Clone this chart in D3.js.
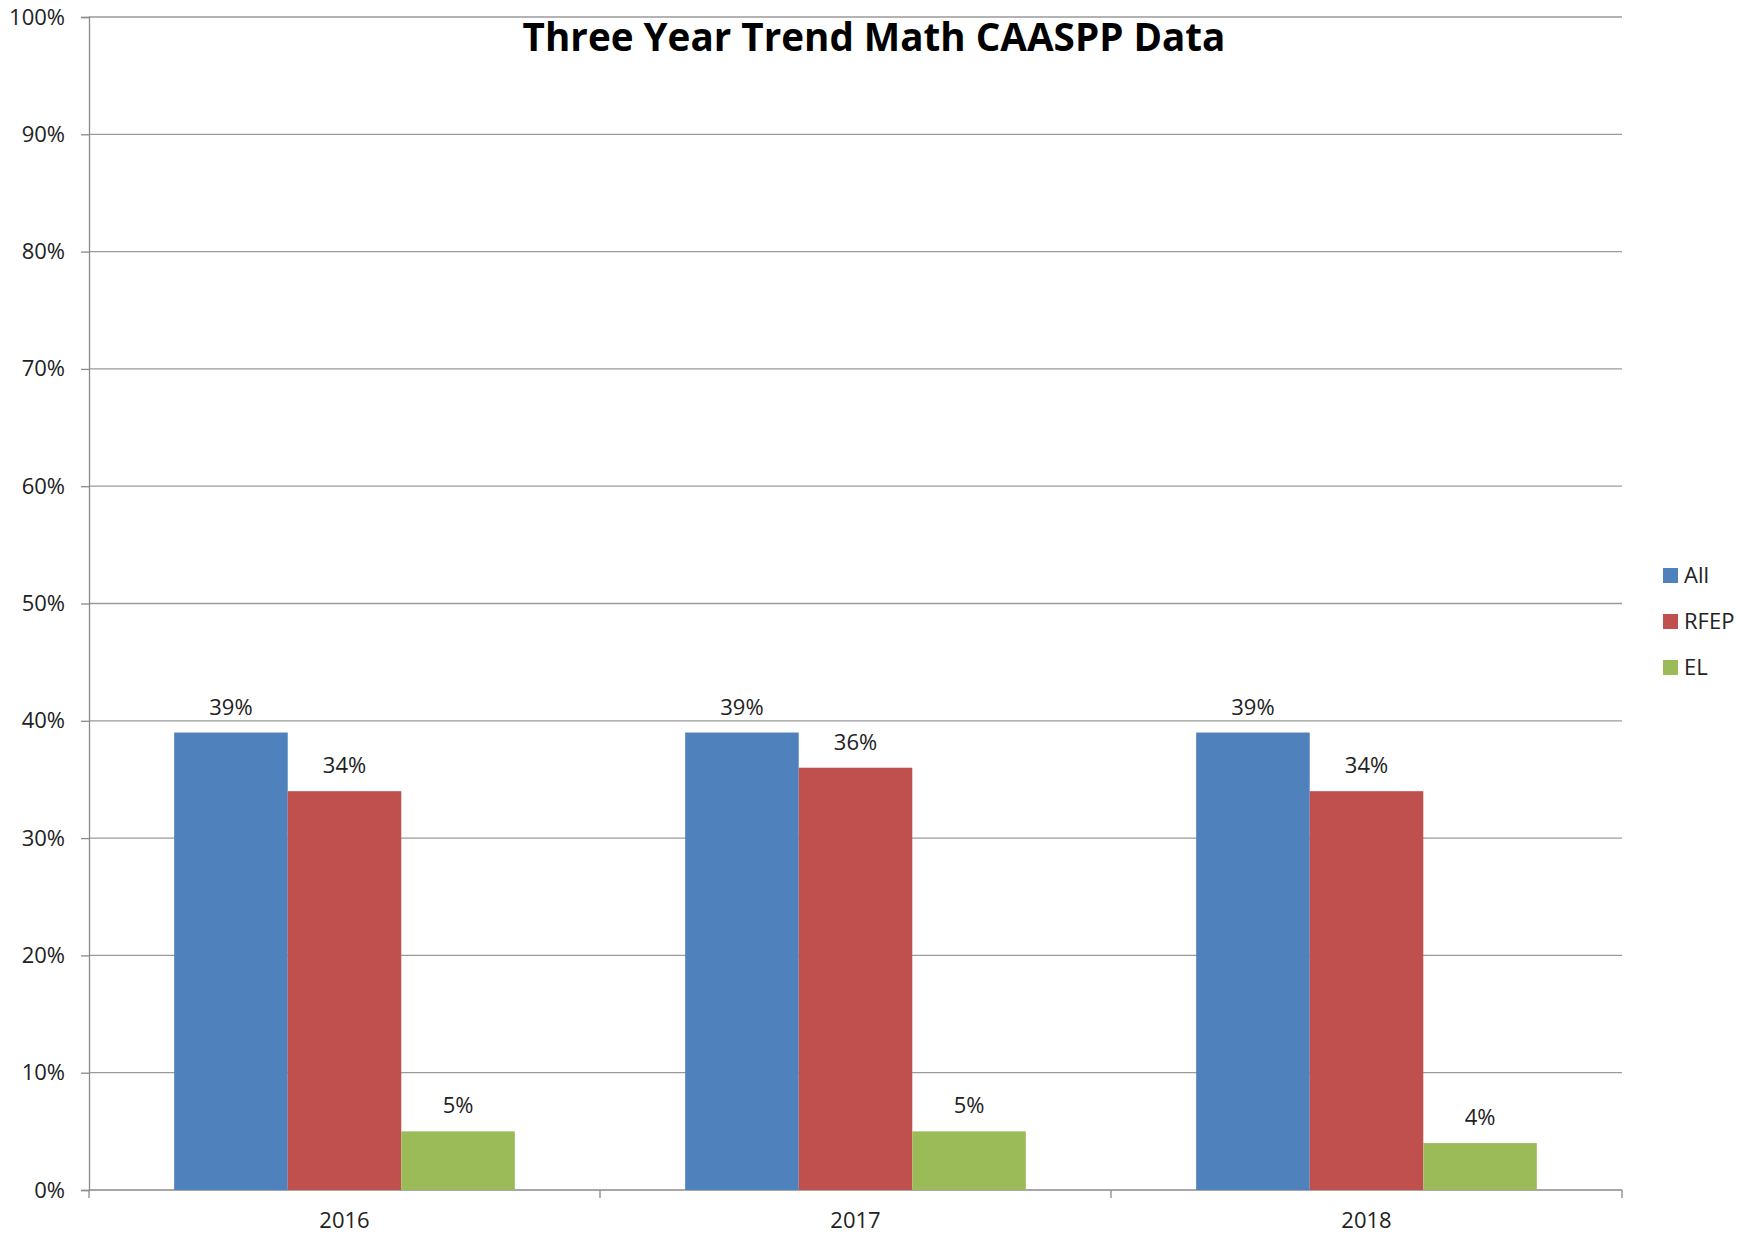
<!DOCTYPE html>
<html>
<head>
<meta charset="utf-8">
<script src="https://cdn.jsdelivr.net/npm/d3@7"></script>
<style>
  body { margin: 0; background: #fff; }
  text { font-family: "Open Sans", "Liberation Sans", sans-serif; fill: #222; }
</style>
</head>
<body>
<script>
const years = ["2016", "2017", "2018"];
const seriesNames = ["All", "RFEP", "EL"];
const allValues = [0.39, 0.39, 0.39];
const rfepValues = [0.34, 0.36, 0.34];
const elValues = [0.05, 0.05, 0.04];
const colours = ["#4F81BD", "#C0504D", "#9BBB59"];
const yTicks = [0, 0.1, 0.2, 0.3, 0.4, 0.5, 0.6, 0.7, 0.8, 0.9, 1];

const width = 1756, height = 1236;
const margin = {top: 17, right: 134, bottom: 46, left: 89};
const plotW = width - margin.left - margin.right;
const plotH = height - margin.top - margin.bottom;

const svg = d3.select("body").append("svg")
    .attr("width", width).attr("height", height);

const g = svg.append("g").attr("transform", `translate(${margin.left},${margin.top})`);

const y = d3.scaleLinear().domain([0, 1]).range([plotH, 0]);
const x0 = d3.scaleBand().domain(years).range([0, plotW]).padding(0);
const bw = x0.bandwidth();
// excel-style gap width 150%
const gap = bw * 0.75 / 4.5;
const x1 = d3.scaleBand().domain(seriesNames).range([gap, bw - gap]).padding(0);

// gridlines
g.append("g").selectAll("line").data(yTicks.filter(d => d > 0)).join("line")
    .attr("x1", 0).attr("x2", plotW)
    .attr("y1", d => y(d)).attr("y2", d => y(d))
    .attr("stroke", "#9a9a9a").attr("stroke-width", 1.3);

// y axis
const yAxis = g.append("g")
    .call(d3.axisLeft(y).tickValues(yTicks).tickFormat(d3.format(".0%")).tickSize(8).tickPadding(16));
yAxis.select(".domain").attr("stroke", "#8a8a8a").attr("stroke-width", 1.3);
yAxis.selectAll(".tick line").attr("stroke", "#8a8a8a").attr("stroke-width", 1.3);
yAxis.selectAll("text").style("font-size", "22px").attr("fill", "#222");

// x axis baseline and ticks between categories
const xg = g.append("g").attr("transform", `translate(0,${plotH})`);
xg.append("line").attr("x1", 0).attr("x2", plotW)
    .attr("stroke", "#8a8a8a").attr("stroke-width", 1.3);
xg.selectAll("line.tk").data(d3.range(years.length + 1)).join("line")
    .attr("class", "tk")
    .attr("x1", i => i * bw).attr("x2", i => i * bw)
    .attr("y1", 0).attr("y2", 8)
    .attr("stroke", "#8a8a8a").attr("stroke-width", 1.3);
xg.selectAll("text").data(years).join("text")
    .attr("x", d => x0(d) + bw / 2)
    .attr("y", 38)
    .attr("text-anchor", "middle")
    .style("font-size", "22px")
    .text(d => d);

// bars
const table = years.map((yr, i) => ({
  year: yr,
  vals: [allValues[i], rfepValues[i], elValues[i]].map((v, k) => ({name: seriesNames[k], value: v, k}))
}));

const groups = g.selectAll("g.year").data(table).join("g")
    .attr("class", "year")
    .attr("transform", d => `translate(${x0(d.year)},0)`);

groups.selectAll("rect").data(d => d.vals).join("rect")
    .attr("x", d => x1(d.name))
    .attr("y", d => y(d.value))
    .attr("width", x1.bandwidth())
    .attr("height", d => plotH - y(d.value))
    .attr("fill", d => colours[d.k]);

groups.selectAll("text").data(d => d.vals).join("text")
    .attr("x", d => x1(d.name) + x1.bandwidth() / 2)
    .attr("y", d => y(d.value) - 18)
    .attr("text-anchor", "middle")
    .style("font-size", "22px")
    .text(d => d3.format(".0%")(d.value));

// title
const title = svg.append("text")
    .attr("x", 874).attr("y", 51)
    .attr("text-anchor", "middle")
    .style("font-size", "40px")
    .style("font-weight", "bold")
    .style("fill", "#000")
    .text("Three Year Trend Math CAASPP Data");
const tw = title.node().getComputedTextLength();
title.style("font-size", (40 * 703 / tw) + "px");

// legend
const legend = svg.append("g").attr("transform", "translate(1663,568)");
const li = legend.selectAll("g").data(seriesNames).join("g")
    .attr("transform", (d, i) => `translate(0,${i * 46})`);
li.append("rect").attr("width", 15).attr("height", 15).attr("fill", (d, i) => colours[i]);
li.append("text").attr("x", 21).attr("y", 15).style("font-size", "22px").text(d => d);
</script>
</body>
</html>
